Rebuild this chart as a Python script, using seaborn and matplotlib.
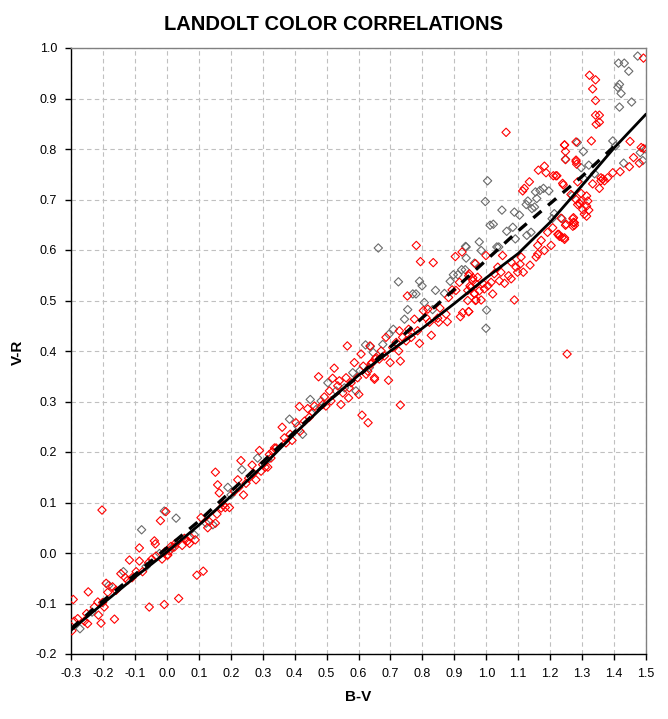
import numpy as np
import pandas as pd
import matplotlib
matplotlib.use("Agg")
import matplotlib.pyplot as plt
import seaborn as sns

# ---- data (B-V, V-R) ----
red_bv = [-0.297, -0.293, -0.290, -0.279, -0.258, -0.248, -0.246, -0.251, -0.227, -0.216,
          -0.214, -0.206, -0.203, -0.201, -0.196, -0.190, -0.185, -0.170, -0.164, -0.159,
          -0.144, -0.130, -0.117, -0.123, -0.109, -0.096, -0.086, -0.086, -0.076, -0.057,
          -0.055, -0.047, -0.039, -0.036, -0.034, -0.020, -0.015, -0.008, -0.005, 0.002,
          0.008, 0.024, 0.003, 0.013, -0.003, 0.027, 0.037, 0.048, 0.055, 0.065,
          0.071, 0.073, 0.089, 0.094, 0.107, 0.114, 0.128, 0.133, 0.152, 0.152,
          0.157, 0.159, 0.164, 0.170, 0.177, 0.183, 0.196, 0.211, 0.222, 0.225,
          0.232, 0.240, 0.248, 0.256, 0.267, 0.271, 0.279, 0.290, 0.295, 0.300,
          0.308, 0.326, 0.331, 0.337, 0.316, 0.321, 0.342, 0.361, 0.368, 0.373,
          0.386, 0.392, 0.404, 0.415, 0.417, 0.431, 0.441, 0.446, 0.457, 0.462,
          0.475, 0.488, 0.493, 0.498, 0.509, 0.514, 0.519, 0.524, 0.535, 0.540,
          0.545, 0.551, 0.561, 0.565, 0.569, 0.571, 0.577, 0.587, 0.597, 0.601,
          0.608, 0.611, 0.615, 0.624, 0.630, 0.642, 0.650, 0.653, 0.636, 0.629,
          0.639, 0.650, 0.655, 0.665, 0.671, 0.681, 0.686, 0.694, 0.699, 0.707,
          0.718, 0.726, 0.728, 0.731, 0.731, 0.738, 0.749, 0.753, 0.757, 0.765,
          0.775, 0.781, 0.785, 0.791, 0.794, 0.803, 0.811, 0.817, 0.822, 0.828,
          0.834, 0.848, 0.851, 0.855, 0.874, 0.878, 0.882, 0.893, 0.903, 0.905,
          0.916, 0.919, 0.924, 0.926, 0.942, 0.945, 0.949, 0.958, 0.963, 0.966,
          0.968, 1.062, 0.945, 0.966, 0.947, 0.958, 0.973, 0.989, 0.999, 0.942,
          0.945, 0.952, 0.963, 0.968, 0.978, 0.984, 0.994, 1.005, 1.015, 1.020,
          1.025, 1.036, 1.041, 1.046, 1.051, 1.057, 1.070, 1.078, 1.078, 1.088,
          1.093, 1.098, 1.106, 1.109, 1.116, 1.114, 1.119, 1.135, 1.137, 1.156,
          1.161, 1.161, 1.163, 1.172, 1.182, 1.182, 1.187, 1.192, 1.203, 1.208,
          1.210, 1.221, 1.224, 1.229, 1.239, 1.245, 1.248, 1.248, 1.245, 1.248,
          1.271, 1.273, 1.276, 1.281, 1.281, 1.253, 1.492, 1.323, 1.342, 1.333,
          1.342, 1.342, 1.354, 1.354, 1.344, 1.329, 1.245, 1.450, 1.485, 1.492,
          1.281, 1.283, 1.218, 1.241, 1.286, 1.359, 1.359, 1.365, 1.354, 1.370,
          1.380, 1.396, 1.419, 1.448, 1.461, 1.479, 1.333, 1.265, 1.281, 1.286,
          1.297, 1.314, 1.318, 1.314, 1.321, 1.307, 1.314, 1.302, 1.297, 1.292,
          1.273, 1.276, 1.271, 1.250, 1.234, 1.227, 1.237, 1.245]
red_vr = [-0.154, -0.092, -0.135, -0.130, -0.135, -0.140, -0.077, -0.120, -0.107, -0.097,
          -0.123, -0.139, 0.085, -0.098, -0.107, -0.060, -0.078, -0.067, -0.131, -0.074,
          -0.041, -0.049, -0.014, -0.054, -0.049, -0.037, -0.016, 0.010, -0.037, -0.019,
          -0.107, -0.012, 0.024, 0.018, -0.006, 0.064, -0.012, -0.102, 0.003, -0.004,
          0.004, 0.012, -0.004, 0.013, 0.082, 0.019, -0.090, 0.015, 0.029, 0.024,
          0.019, 0.032, 0.026, -0.044, 0.070, -0.036, 0.050, 0.062, 0.160, 0.059,
          0.077, 0.135, 0.119, 0.089, 0.095, 0.090, 0.090, 0.122, 0.145, 0.130,
          0.183, 0.115, 0.138, 0.148, 0.174, 0.158, 0.145, 0.203, 0.162, 0.175,
          0.170, 0.188, 0.201, 0.208, 0.170, 0.195, 0.208, 0.249, 0.228, 0.218,
          0.235, 0.223, 0.258, 0.290, 0.241, 0.261, 0.286, 0.269, 0.278, 0.291,
          0.349, 0.294, 0.309, 0.291, 0.321, 0.301, 0.346, 0.366, 0.331, 0.341,
          0.294, 0.317, 0.347, 0.410, 0.307, 0.327, 0.337, 0.377, 0.347, 0.314,
          0.394, 0.273, 0.370, 0.354, 0.258, 0.377, 0.347, 0.384, 0.410, 0.360,
          0.374, 0.344, 0.387, 0.384, 0.400, 0.390, 0.427, 0.342, 0.377, 0.407,
          0.417, 0.400, 0.440, 0.380, 0.293, 0.427, 0.420, 0.509, 0.443, 0.427,
          0.463, 0.609, 0.440, 0.415, 0.577, 0.480, 0.466, 0.483, 0.457, 0.431,
          0.575, 0.465, 0.457, 0.485, 0.473, 0.458, 0.506, 0.521, 0.587, 0.520,
          0.536, 0.468, 0.596, 0.476, 0.520, 0.478, 0.529, 0.545, 0.513, 0.500,
          0.533, 0.833, 0.549, 0.573, 0.553, 0.539, 0.546, 0.534, 0.589, 0.500,
          0.478, 0.526, 0.514, 0.501, 0.519, 0.501, 0.523, 0.529, 0.536, 0.513,
          0.553, 0.566, 0.539, 0.556, 0.589, 0.534, 0.549, 0.576, 0.543, 0.501,
          0.566, 0.556, 0.572, 0.586, 0.556, 0.717, 0.722, 0.735, 0.570, 0.586,
          0.592, 0.609, 0.758, 0.619, 0.766, 0.599, 0.753, 0.635, 0.609, 0.644,
          0.747, 0.747, 0.631, 0.627, 0.732, 0.808, 0.795, 0.779, 0.624, 0.649,
          0.662, 0.655, 0.649, 0.775, 0.814, 0.394, 0.980, 0.946, 0.937, 0.919,
          0.896, 0.867, 0.867, 0.853, 0.849, 0.816, 0.808, 0.815, 0.803, 0.801,
          0.778, 0.770, 0.747, 0.729, 0.735, 0.743, 0.737, 0.741, 0.722, 0.737,
          0.743, 0.753, 0.755, 0.765, 0.783, 0.772, 0.731, 0.710, 0.700, 0.690,
          0.697, 0.707, 0.697, 0.687, 0.679, 0.671, 0.667, 0.680, 0.712, 0.692,
          0.664, 0.654, 0.647, 0.651, 0.663, 0.631, 0.625, 0.621]

gray_bv = [-0.008, -0.079, -0.136, -0.065, -0.023, -0.234, 0.016, -0.182, -0.272,
           0.029, 0.086, 0.144, 0.191, 0.235, 0.284, 0.201, 0.123, 0.316,
           0.384, 0.425, 0.449, 0.483, 0.504, 0.530, 0.556, 0.582, 0.605, 0.622,
           0.637, 0.646, 0.410, 0.467, 0.592, 0.634,
           0.662, 0.695, 0.709, 0.744, 0.754, 0.770, 0.780, 0.799, 0.832, 0.841,
           0.869, 0.887, 0.897, 0.911, 0.923, 0.934, 0.937, 0.963, 0.725, 0.791,
           0.806, 0.676, 0.935,
           1.004, 0.997, 0.937, 0.978, 0.984, 1.012, 1.022, 1.033, 1.039, 1.049,
           1.064, 1.083, 1.088, 1.091, 1.104, 1.125, 1.130, 1.143, 1.151, 1.154,
           1.158, 1.168, 1.179, 1.196, 1.206, 1.213, 1.237, 1.269, 1.001, 0.999,
           1.127, 1.140,
           1.474, 1.432, 1.414, 1.446, 1.412, 1.417, 1.422, 1.417, 1.455, 1.396,
           1.404, 1.482, 1.490, 1.500, 1.430, 1.307, 1.339, 1.285, 1.304, 1.321,
           1.297, 1.248]
gray_vr = [0.083, 0.046, -0.037, -0.027, -0.001, -0.117, 0.010, -0.064, -0.150,
           0.069, 0.036, 0.056, 0.130, 0.165, 0.188, 0.115, 0.059, 0.185,
           0.265, 0.235, 0.304, 0.301, 0.337, 0.321, 0.327, 0.357, 0.361, 0.412,
           0.409, 0.397, 0.251, 0.284, 0.321, 0.367,
           0.604, 0.433, 0.443, 0.463, 0.482, 0.513, 0.513, 0.529, 0.482, 0.520,
           0.514, 0.538, 0.551, 0.551, 0.561, 0.561, 0.584, 0.574, 0.537, 0.538,
           0.496, 0.413, 0.607,
           0.737, 0.696, 0.606, 0.616, 0.599, 0.649, 0.651, 0.606, 0.606, 0.679,
           0.637, 0.645, 0.675, 0.622, 0.669, 0.690, 0.697, 0.682, 0.685, 0.715,
           0.702, 0.718, 0.722, 0.717, 0.662, 0.672, 0.662, 0.708, 0.481, 0.445,
           0.629, 0.635,
           0.984, 0.970, 0.970, 0.954, 0.922, 0.928, 0.910, 0.883, 0.893, 0.816,
           0.806, 0.793, 0.777, 0.800, 0.772, 0.740, 0.751, 0.813, 0.795, 0.768,
           0.763, 0.780]

# fitted relations (solid and dashed)
fit_bv = [-0.3, -0.2, -0.1, 0.0, 0.1, 0.2, 0.3, 0.4, 0.5, 0.6,
          0.7, 0.8, 0.9, 1.0, 1.1, 1.2, 1.3, 1.4, 1.5]
solid_vr = [-0.153, -0.100, -0.048, 0.002, 0.055, 0.112, 0.172, 0.236, 0.297, 0.352,
            0.400, 0.445, 0.494, 0.545, 0.593, 0.655, 0.728, 0.802, 0.869]
dashed_bv = fit_bv[:-1]
dashed_vr = [-0.150, -0.095, -0.043, 0.010, 0.063, 0.122, 0.180, 0.240, 0.298, 0.350,
             0.408, 0.466, 0.522, 0.580, 0.638, 0.692, 0.746, 0.805]

xticks = [round(-0.3 + 0.1 * i, 1) for i in range(19)]
yticks = [round(-0.2 + 0.1 * i, 1) for i in range(13)]

red = pd.DataFrame({"bv": red_bv, "vr": red_vr})
gray = pd.DataFrame({"bv": gray_bv, "vr": gray_vr})
solid = pd.DataFrame({"bv": fit_bv, "vr": solid_vr})
dashed = pd.DataFrame({"bv": dashed_bv, "vr": dashed_vr})

sns.set_style("white")
plt.rcParams["font.family"] = ["Liberation Sans", "DejaVu Sans"]
plt.rcParams["text.color"] = "black"
plt.rcParams["xtick.color"] = "black"
plt.rcParams["ytick.color"] = "black"

fig = plt.figure(figsize=(6.68, 7.19), dpi=100)
ax = fig.add_axes([71 / 668, 65 / 719, 575 / 668, 606 / 719])

sns.scatterplot(data=gray, x="bv", y="vr", ax=ax, marker="D", s=18,
                facecolors="none", edgecolor="#6a6a6a", linewidth=0.8, zorder=2)
sns.scatterplot(data=red, x="bv", y="vr", ax=ax, marker="D", s=18,
                facecolors="none", edgecolor="#ff0000", linewidth=0.8, zorder=3)
sns.lineplot(data=solid, x="bv", y="vr", ax=ax, color="black", lw=2.0, zorder=4)
sns.lineplot(data=dashed, x="bv", y="vr", ax=ax, color="black", lw=2.4,
             linestyle=(0, (3.2, 2.6)), zorder=4)

ax.set_xlim(-0.3, 1.5)
ax.set_ylim(-0.2, 1.0)
ax.set_xticks(xticks)
ax.set_yticks(yticks)
ax.set_xticklabels([f"{t:.1f}" for t in xticks], fontsize=9)
ax.set_yticklabels([f"{t:.1f}" for t in yticks], fontsize=9)
ax.tick_params(direction="out", length=4, width=1, colors="black", pad=6,
               bottom=True, left=True)
ax.grid(True, color="#c0c0c0", linestyle=(0, (4, 3)), linewidth=0.8)
ax.set_axisbelow(True)
for side in ["left", "bottom"]:
    ax.spines[side].set_color("black")
    ax.spines[side].set_linewidth(1.0)
for side in ["top", "right"]:
    ax.spines[side].set_color("#808080")
    ax.spines[side].set_linewidth(1.0)

ax.set_xlabel("")
ax.set_ylabel("")
fig.text(358 / 668, 1 - 697 / 719, "B-V", ha="center", va="center",
         fontsize=11, fontweight="bold", color="black")
fig.text(18 / 668, 1 - 352 / 719, "V-R", ha="center", va="center",
         fontsize=11, fontweight="bold", rotation=90, color="black")
fig.text(333 / 668, 1 - 25 / 719, "LANDOLT COLOR CORRELATIONS", ha="center",
         va="center", fontsize=14.5, fontweight="bold", color="black")

fig.savefig("out.png", dpi=100)
